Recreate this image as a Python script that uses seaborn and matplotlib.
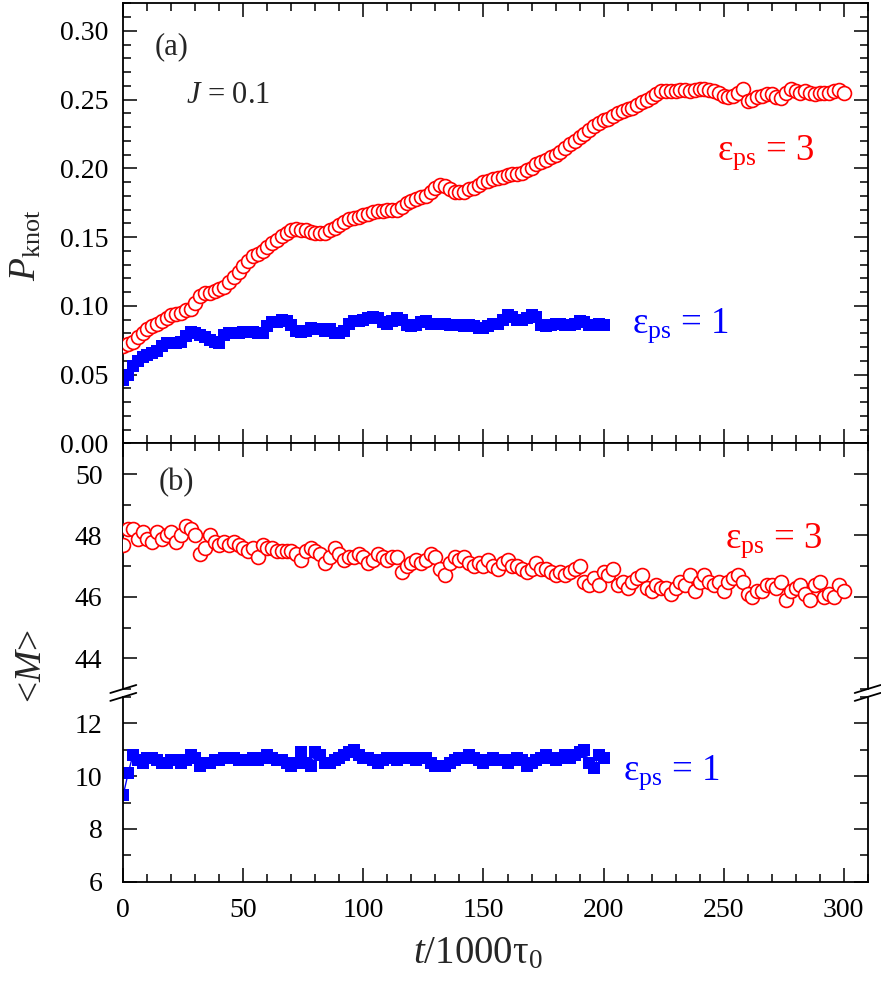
import matplotlib
matplotlib.use("Agg")
import matplotlib.pyplot as plt
from matplotlib.ticker import MultipleLocator, FormatStrFormatter
from matplotlib.lines import Line2D
import numpy as np
import pandas as pd
import seaborn as sns

# --- data (t in units of 1000 tau_0) ---
t_eps3 = np.arange(0, 301, 2)
t_eps1 = np.arange(0, 201, 2)

p_knot_eps3 = [
    0.071, 0.072, 0.074, 0.077, 0.080, 0.083, 0.085, 0.087, 0.089, 0.091,
    0.093, 0.094, 0.095, 0.097, 0.098, 0.102, 0.107, 0.109, 0.109, 0.111,
    0.112, 0.114, 0.117, 0.121, 0.125, 0.129, 0.133, 0.136, 0.138, 0.140,
    0.143, 0.146, 0.148, 0.151, 0.153, 0.155, 0.156, 0.155, 0.155, 0.154,
    0.153, 0.153, 0.153, 0.155, 0.157, 0.159, 0.161, 0.163, 0.164, 0.165,
    0.166, 0.167, 0.168, 0.169, 0.169, 0.170, 0.170, 0.170, 0.172, 0.175,
    0.176, 0.178, 0.179, 0.180, 0.183, 0.186, 0.188, 0.187, 0.185, 0.183,
    0.183, 0.183, 0.185, 0.186, 0.188, 0.190, 0.191, 0.192, 0.193, 0.194,
    0.195, 0.196, 0.196, 0.197, 0.199, 0.200, 0.203, 0.205, 0.206, 0.208,
    0.210, 0.212, 0.215, 0.218, 0.220, 0.223, 0.225, 0.228, 0.231, 0.233,
    0.235, 0.236, 0.238, 0.240, 0.242, 0.243, 0.244, 0.246, 0.248, 0.250,
    0.252, 0.254, 0.256, 0.256, 0.256, 0.256, 0.257, 0.257, 0.256, 0.257,
    0.258, 0.258, 0.257, 0.256, 0.255, 0.253, 0.252, 0.253, 0.255, 0.258,
    0.249, 0.250, 0.252, 0.253, 0.254, 0.254, 0.252, 0.251, 0.255, 0.258,
    0.256, 0.255, 0.256, 0.255, 0.254, 0.255, 0.255, 0.255, 0.256, 0.257,
    0.255,
]

p_knot_eps1 = [
    0.046, 0.050, 0.056, 0.060, 0.063, 0.064, 0.066, 0.067, 0.071, 0.073,
    0.073, 0.073, 0.074, 0.078, 0.081, 0.080, 0.079, 0.077, 0.075, 0.074,
    0.073, 0.079, 0.080, 0.080, 0.080, 0.081, 0.081, 0.081, 0.080, 0.080,
    0.085, 0.088, 0.088, 0.090, 0.089, 0.086, 0.082, 0.081, 0.082, 0.084,
    0.083, 0.083, 0.082, 0.083, 0.080, 0.080, 0.082, 0.087, 0.089, 0.089,
    0.090, 0.091, 0.092, 0.091, 0.088, 0.087, 0.089, 0.091, 0.090, 0.086,
    0.085, 0.086, 0.088, 0.089, 0.087, 0.087, 0.087, 0.087, 0.086, 0.086,
    0.086, 0.085, 0.086, 0.085, 0.084, 0.084, 0.085, 0.087, 0.087, 0.090,
    0.093, 0.092, 0.090, 0.090, 0.091, 0.093, 0.092, 0.086, 0.085, 0.086,
    0.087, 0.087, 0.086, 0.086, 0.087, 0.089, 0.088, 0.086, 0.086, 0.087,
    0.086,
]

m_eps3 = [
    47.7, 48.2, 48.2, 47.9, 48.1, 47.9, 47.8, 48.1, 47.9, 48.0,
    48.1, 47.8, 48.0, 48.3, 48.2, 48.0, 47.4, 47.6, 48.0, 47.8,
    47.7, 47.8, 47.7, 47.8, 47.7, 47.6, 47.5, 47.6, 47.3, 47.7,
    47.6, 47.6, 47.5, 47.5, 47.5, 47.5, 47.4, 47.2, 47.5, 47.6,
    47.5, 47.4, 47.1, 47.3, 47.6, 47.4, 47.2, 47.3, 47.3, 47.4,
    47.3, 47.1, 47.2, 47.4, 47.3, 47.2, 47.3, 47.3, 46.8, 47.0,
    47.1, 47.2, 47.1, 47.2, 47.4, 47.3, 46.9, 46.7, 47.1, 47.3,
    47.2, 47.3, 47.1, 47.0, 47.1, 47.0, 47.2, 47.0, 46.9, 47.1,
    47.2, 47.0, 47.0, 46.9, 46.8, 46.9, 47.1, 46.9, 46.9, 46.8,
    46.7, 46.8, 46.7, 46.8, 46.9, 47.0, 46.5, 46.4, 46.6, 46.4,
    46.8, 46.7, 46.9, 46.4, 46.5, 46.3, 46.5, 46.6, 46.7, 46.3,
    46.2, 46.4, 46.3, 46.3, 46.1, 46.3, 46.5, 46.4, 46.7, 46.2,
    46.5, 46.7, 46.5, 46.4, 46.5, 46.2, 46.5, 46.6, 46.7, 46.5,
    46.1, 46.0, 46.2, 46.2, 46.4, 46.4, 46.3, 46.5, 45.9, 46.2,
    46.3, 46.4, 46.1, 45.9, 46.4, 46.5, 46.0, 46.1, 46.0, 46.4,
    46.2,
]

m_eps1 = [
    9.3, 10.1, 10.8, 10.6, 10.5, 10.7, 10.7, 10.6, 10.5, 10.5,
    10.6, 10.6, 10.5, 10.6, 10.8, 10.7, 10.4, 10.5, 10.5, 10.6,
    10.6, 10.7, 10.7, 10.7, 10.6, 10.6, 10.6, 10.7, 10.6, 10.7,
    10.8, 10.7, 10.6, 10.6, 10.5, 10.4, 10.5, 10.9, 10.5, 10.4,
    10.9, 10.8, 10.5, 10.5, 10.6, 10.7, 10.8, 10.9, 11.0, 10.8,
    10.7, 10.7, 10.6, 10.5, 10.6, 10.7, 10.7, 10.6, 10.7, 10.7,
    10.7, 10.6, 10.7, 10.7, 10.5, 10.4, 10.4, 10.4, 10.5, 10.6,
    10.7, 10.7, 10.8, 10.7, 10.6, 10.5, 10.6, 10.7, 10.6, 10.6,
    10.5, 10.6, 10.7, 10.6, 10.4, 10.5, 10.6, 10.7, 10.8, 10.7,
    10.6, 10.7, 10.8, 10.7, 10.8, 10.9, 11.0, 10.5, 10.3, 10.8,
    10.7,
]

x_ticks = [0, 50, 100, 150, 200, 250, 300]

df3 = pd.DataFrame({"t": t_eps3, "P": p_knot_eps3, "M": m_eps3})
df1 = pd.DataFrame({"t": t_eps1, "P": p_knot_eps1, "M": m_eps1})

sns.set_style("ticks")
plt.rcParams["font.family"] = ["Liberation Serif", "DejaVu Serif"]
plt.rcParams["mathtext.fontset"] = "custom"
plt.rcParams["mathtext.rm"] = "Liberation Serif"
plt.rcParams["mathtext.it"] = "Liberation Serif:italic"
plt.rcParams["mathtext.bf"] = "Liberation Serif:bold"

W, H = 881, 984
fig = plt.figure(figsize=(W / 100, H / 100), dpi=100)

def fig_rect(x0, y0, x1, y1):
    # pixel box (top-left origin) -> figure fraction rect
    return [x0 / W, 1 - y1 / H, (x1 - x0) / W, (y1 - y0) / H]

ax_a = fig.add_axes(fig_rect(123.3, 3.5, 867.7, 443.3))
ax_b1 = fig.add_axes(fig_rect(123.3, 443.3, 867.7, 689.0))
ax_b2 = fig.add_axes(fig_rect(123.3, 696.9, 867.7, 881.7))

red = "#ff0000"
blue = "#0000ff"
scatter_kw = dict(marker="o", s=100, color="white", edgecolor=red, linewidth=1.2, zorder=3)
line_kw = dict(color=blue, marker="s", markersize=8, markeredgewidth=0, linewidth=1.0, zorder=2)

# panel (a)
sns.lineplot(data=df1, x="t", y="P", ax=ax_a, **line_kw)
sns.scatterplot(data=df3, x="t", y="P", ax=ax_a, **scatter_kw)
# panel (b), broken axis
sns.scatterplot(data=df3, x="t", y="M", ax=ax_b1, **scatter_kw)
sns.lineplot(data=df1, x="t", y="M", ax=ax_b2, **line_kw)

for ax in (ax_a, ax_b1, ax_b2):
    ax.set_xlim(0, 310)
    ax.set_xticks(x_ticks)
    ax.xaxis.set_minor_locator(MultipleLocator(10))
    ax.set_xlabel("")
    ax.set_ylabel("")
    for s in ax.spines.values():
        s.set_linewidth(1.3)
        s.set_color("black")
    ax.tick_params(which="both", direction="in", top=True, right=True,
                   width=1.1, colors="black", labelsize=20)
    ax.tick_params(which="major", length=10)
    ax.tick_params(which="minor", length=5.5)

ax_a.set_ylim(0, 0.32)
ax_a.set_yticks([0.0, 0.05, 0.10, 0.15, 0.20, 0.25, 0.30])
ax_a.yaxis.set_minor_locator(MultipleLocator(0.01))
ax_a.yaxis.set_major_formatter(FormatStrFormatter("%.2f"))
ax_a.tick_params(axis="y", pad=11)
ax_a.tick_params(labelbottom=False)

ax_b1.set_ylim(43, 51)
ax_b1.set_yticks([44, 46, 48, 50])
ax_b1.yaxis.set_minor_locator(MultipleLocator(1))
ax_b1.spines["bottom"].set_visible(False)
ax_b1.tick_params(axis="x", which="both", bottom=False, labelbottom=False)
ax_b1.tick_params(axis="y", pad=15)

ax_b2.set_ylim(6, 13)
ax_b2.set_yticks([6, 8, 10, 12])
ax_b2.yaxis.set_minor_locator(MultipleLocator(1))
ax_b2.spines["top"].set_visible(False)
ax_b2.tick_params(axis="x", which="both", top=False, pad=12)
ax_b2.tick_params(axis="y", pad=15)

# break marks "//" on both vertical spines
for xp in (123.3, 867.7):
    for yp in (689.0, 696.9):
        x0, x1 = (xp - 13) / W, (xp + 13) / W
        y0, y1 = 1 - (yp + 4) / H, 1 - (yp - 4) / H
        fig.add_artist(Line2D([x0, x1], [y0, y1], color="black", linewidth=1.3,
                              transform=fig.transFigure))

# labels
ax_a.set_ylabel(r"$P_{\mathrm{knot}}$", fontsize=27)
ax_a.yaxis.set_label_coords(-0.107, 0.45)
ax_b1.set_ylabel(r"<$M$>", fontsize=27)
ax_b1.yaxis.set_label_coords(-0.1, 0.095)
ax_b2.set_xlabel(r"$t$/1000$\mathrm{τ}_{0}$", fontsize=28)
ax_b2.xaxis.set_label_coords(0.4765, -0.29)

# annotations
ax_a.text(13.2, 0.283, "(a)", fontsize=22, ha="left", va="baseline")
ax_a.text(26.1, 0.2475, r"$J$ = 0.1", fontsize=22, ha="left", va="baseline")
ax_a.text(247.3, 0.2066, r"$\mathrm{ε}_{\mathrm{ps}}$ = 3", fontsize=26.5, color=red,
          ha="left", va="baseline")
ax_a.text(212.0, 0.0802, r"$\mathrm{ε}_{\mathrm{ps}}$ = 1", fontsize=26.5, color=blue,
          ha="left", va="baseline")
ax_b1.text(14.6, 49.46, "(b)", fontsize=22, ha="left", va="baseline")
ax_b1.text(250.7, 47.6, r"$\mathrm{ε}_{\mathrm{ps}}$ = 3", fontsize=26.5, color=red,
           ha="left", va="baseline")
ax_b2.text(208.0, 9.88, r"$\mathrm{ε}_{\mathrm{ps}}$ = 1", fontsize=26.5, color=blue,
           ha="left", va="baseline")

fig.savefig("out.png", dpi=100, facecolor="white")
